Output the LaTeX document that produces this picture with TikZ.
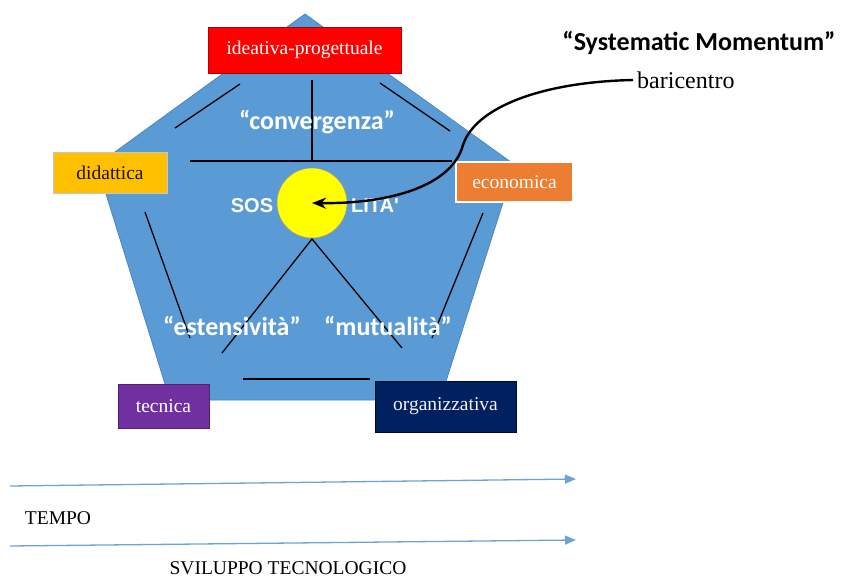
\documentclass[tikz,border=0pt]{standalone}
\usepackage{fontspec}
\setmainfont{Liberation Serif}
\newfontfamily\calfont{Carlito}
\newfontfamily\arialfont{Liberation Sans}
\usetikzlibrary{arrows.meta}
\definecolor{pentblue}{HTML}{5B9BD5}
\definecolor{pentedge}{HTML}{4A86C0}
\definecolor{boxred}{HTML}{FF0000}
\definecolor{boxyellow}{HTML}{FFC000}
\definecolor{boxorange}{HTML}{ED7D31}
\definecolor{boxpurple}{HTML}{7030A0}
\definecolor{boxnavy}{HTML}{002060}
\definecolor{arrowblue}{HTML}{6FA3D8}
\definecolor{circyellow}{HTML}{FFFF00}
\tikzset{
  lbox/.style={draw, line width=0.8pt, inner sep=0pt, font=\fontsize{19.5}{20}\selectfont},
  inner/.style={line width=1.3pt, black},
  bigword/.style={font=\calfont\bfseries\fontsize{26}{26}\selectfont, inner sep=0pt},
  serifword/.style={font=\fontsize{19.5}{20}\selectfont, inner sep=0pt},
  timeline/.style={arrowblue, line width=1.3pt, -{Triangle[length=11pt,width=9pt]}}
}
\begin{document}
\begin{tikzpicture}[x=1pt,y=-1pt]
\useasboundingbox (0,0) rectangle (846,580);
\fill[white] (0,0) rectangle (846,580);
% pentagon
\filldraw[fill=pentblue, draw=pentedge, line width=0.8pt]
  (305,14) -- (515,165) -- (440,400) -- (170,400) -- (97,165) -- cycle;
% inner lines
\coordinate (hl) at (190,161); \coordinate (hr) at (452,161);
\coordinate (vt) at (312,80);  \coordinate (vb) at (312,161);
\draw[inner] (hl) -- (hr);
\draw[inner] (vt) -- (vb);
\draw[inner] (240,84) -- (175,128);
\draw[inner] (380,83) -- (450,131);
\draw[inner] (145,212) -- (190,338);
\draw[inner] (483,213) -- (432,338);
\draw[inner] (243,379) -- (370,379);
% circle and V
\node[circle, fill=circyellow, draw=black!40, line width=0.5pt, minimum size=70pt, inner sep=0pt] (circ) at (312,203) {};
\coordinate (apex) at (312,239);
\draw[inner] (222,353) -- (apex) -- (402,348);
% SOS ... LITA'
\node[font=\arialfont\bfseries\fontsize{20}{20}\selectfont, text=white, inner sep=0pt] (sos) at (252,206) {SOS};
\node[font=\arialfont\bfseries\fontsize{20}{20}\selectfont, text=white, inner sep=0pt] (lita) at (375,206) {LITA'};
% words
\node[bigword, text=white] (conv) at (317,122) {“convergenza”};
\node[bigword, text=white] (est) at (232,326) {“estensività”};
\node[bigword, text=white] (mut) at (388,326) {“mutualità”};
% boxes
\node[lbox, fill=boxred, draw=red!70!black, text=white, minimum width=193pt, minimum height=46pt] (ide) at (304.5,50) {ideativa-progettuale};
\node[lbox, fill=boxyellow, draw=blue!15!gray!40, text=black!85!brown, minimum width=114pt, minimum height=41pt] (did) at (110,172.5) {didattica};
\node[lbox, fill=boxorange, draw=white, line width=2pt, text=white, minimum width=117pt, minimum height=40pt] (eco) at (514.5,182) {economica};
\node[lbox, fill=boxpurple, draw=boxpurple!70!black, text=white, minimum width=91pt, minimum height=44pt] (tec) at (163.5,406) {tecnica};
\node[lbox, fill=boxnavy, draw=black!70!boxnavy, text=white!90!gray, minimum width=141pt, minimum height=51pt] (org) at (445.5,406.5) {organizzativa};
% systematic momentum
\node[bigword, text=black] (sm) at (699,43) {“Systematic Momentum”};
\node[serifword, font=\fontsize{24}{24}\selectfont, inner sep=4pt, anchor=west] (bari) at (633,80) {baricentro};
\draw[black, line width=2.4pt, -{Stealth[length=14pt,width=11pt]}]
  (bari.west) .. controls (540,82) and (475,108) .. (463,145)
  .. controls (452,186) and (390,204) .. (circ.center);
% timelines
\coordinate (t1s) at (10,486); \coordinate (t1e) at (576,479);
\coordinate (t2s) at (10,546); \coordinate (t2e) at (576,540);
\draw[timeline] (t1s) -- (t1e);
\draw[timeline] (t2s) -- (t2e);
\node[serifword] (tempo) at (58,518) {TEMPO};
\node[serifword] (svil) at (288,568) {SVILUPPO TECNOLOGICO};
\end{tikzpicture}
\end{document}
